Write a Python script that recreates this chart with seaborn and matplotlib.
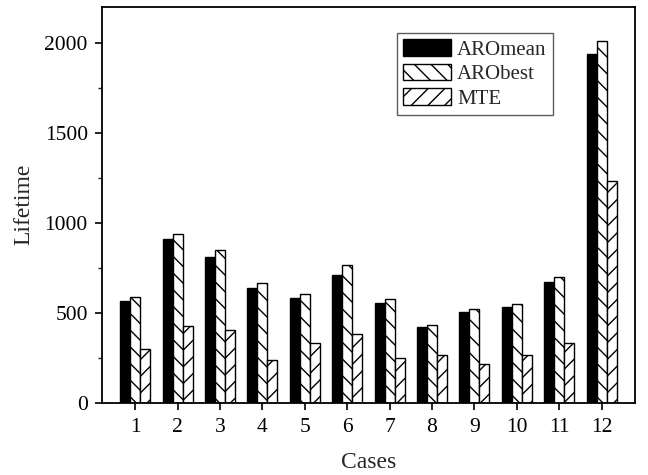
import matplotlib
matplotlib.use("Agg")
import matplotlib.pyplot as plt
import seaborn as sns
import pandas as pd
from matplotlib.ticker import MultipleLocator

cases = ["1", "2", "3", "4", "5", "6", "7", "8", "9", "10", "11", "12"]
aro_mean = [568, 914, 809, 637, 581, 711, 555, 420, 503, 533, 672, 1939]
aro_best = [590, 940, 850, 667, 606, 767, 578, 431, 522, 552, 702, 2013]
mte = [299, 429, 407, 236, 333, 383, 249, 264, 215, 264, 333, 1233]
series = ["AROmean", "ARObest", "MTE"]

df = pd.DataFrame({
    "Cases": cases * 3,
    "Lifetime": aro_mean + aro_best + mte,
    "Series": [series[0]] * 12 + [series[1]] * 12 + [series[2]] * 12,
})

sns.set_style("ticks")
plt.rcParams["font.family"] = ["Liberation Serif", "DejaVu Serif"]
plt.rcParams["hatch.linewidth"] = 1.0
plt.rcParams["hatch.color"] = "black"

fig = plt.figure(figsize=(6.48, 4.75), dpi=100)
ax = fig.add_axes([0.157, 0.152, 0.823, 0.834])

sns.barplot(data=df, x="Cases", y="Lifetime", hue="Series", order=cases,
            hue_order=series, palette=["black", "white", "white"],
            width=0.71, edgecolor="black", linewidth=1.0, saturation=1,
            legend=False, ax=ax, errorbar=None)

hatches = ["", "\\\\", "//"]
for cont, h in zip(ax.containers, hatches):
    for p in cont.patches:
        p.set_hatch(h)
        p.set_edgecolor("black")

ax.set_xlim(-0.79, 11.79)
ax.set_ylim(0, 2204)
ax.yaxis.set_major_locator(MultipleLocator(500))
ax.yaxis.set_minor_locator(MultipleLocator(250))

for s in ax.spines.values():
    s.set_visible(True)
    s.set_linewidth(1.3)
    s.set_color("black")

ax.tick_params(axis="both", which="major", direction="out", length=5,
               width=1.2, labelsize=15.5, pad=5, colors="black")
ax.tick_params(axis="y", which="minor", direction="out", length=3, width=1.0)
ax.tick_params(axis="x", pad=6)

ax.set_xlabel("Cases", fontsize=17, labelpad=11)
ax.set_ylabel("Lifetime", fontsize=17, labelpad=7)

leg = ax.legend(handles=list(ax.containers), labels=series,
                loc="upper right", bbox_to_anchor=(0.846, 0.934),
                borderaxespad=0, fancybox=False, frameon=True,
                fontsize=15, handlelength=2.3, handleheight=0.85,
                handletextpad=0.3, labelspacing=0.2, borderpad=0.3)
leg.get_frame().set_edgecolor("#333333")
leg.get_frame().set_linewidth(1.0)

fig.savefig("out.png", dpi=100)
